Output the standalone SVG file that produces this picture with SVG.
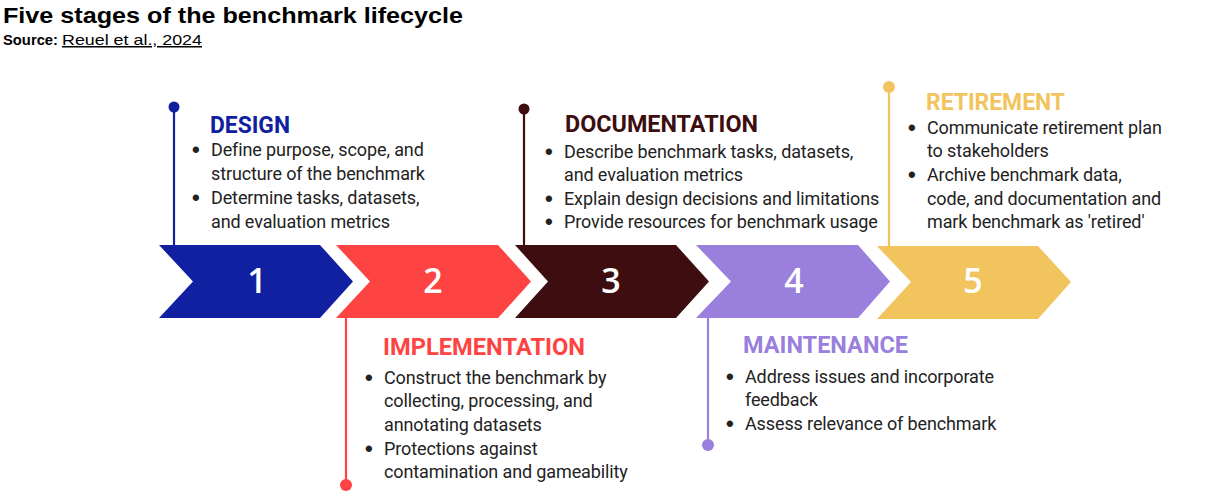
<svg xmlns="http://www.w3.org/2000/svg" width="1205" height="498" viewBox="0 0 1205 498">
<style>
.title{font-family:"Liberation Sans",Arial,sans-serif;font-weight:bold;font-size:22px;fill:#000}
.src{font-family:"Liberation Sans",Arial,sans-serif;font-size:15px;fill:#000}
.head{font-family:Roboto,"Liberation Sans",sans-serif;font-weight:bold;font-size:24px}
.body{font-family:Roboto,"Liberation Sans",sans-serif;font-size:18px;fill:#222;letter-spacing:-0.12px}
.bul{font-family:"Liberation Sans",Arial,sans-serif;font-size:22px;font-weight:bold;fill:#222}
.num{font-family:"Open Sans","Liberation Sans",sans-serif;font-size:34px;font-weight:600;fill:#fff;text-anchor:middle}
.ln{stroke-width:2.2;fill:none}
</style>
<rect width="1205" height="498" fill="#fff"/>
<text class="title" x="3" y="23" textLength="460" lengthAdjust="spacingAndGlyphs">Five stages of the benchmark lifecycle</text>
<text class="src" x="3" y="45" font-weight="bold" textLength="55" lengthAdjust="spacingAndGlyphs">Source:</text>
<text class="src" x="62" y="45" text-decoration="underline" textLength="140" lengthAdjust="spacingAndGlyphs">Reuel et al., 2024</text>

<g id="connectors">
<line class="ln" x1="174" y1="107" x2="174" y2="246" stroke="#1020a0"/>
<circle cx="174" cy="107" r="5.5" fill="#1020a0"/>
<line class="ln" x1="346" y1="317" x2="346" y2="485" stroke="#fe4343"/>
<circle cx="346" cy="485" r="6" fill="#fe4343"/>
<line class="ln" x1="524" y1="109" x2="524" y2="246" stroke="#3d0d10"/>
<circle cx="524" cy="109" r="5.5" fill="#3d0d10"/>
<line class="ln" x1="708" y1="317" x2="708" y2="445" stroke="#9a7fdc"/>
<circle cx="708" cy="445" r="6" fill="#9a7fdc"/>
<line class="ln" x1="889" y1="87" x2="889" y2="246" stroke="#f2c45e"/>
<circle cx="889" cy="87" r="6" fill="#f2c45e"/>
</g>

<g id="stage1">
<polygon points="159,245 320,245 353,281.5 320,318 159,318 193,281.5" fill="#1020a0"/>
<text class="num" x="257" y="293">1</text>
<text class="head" x="210" y="133" fill="#1020a0" textLength="80" lengthAdjust="spacingAndGlyphs">DESIGN</text>
<text class="bul" x="192" y="157">•</text><text class="body" x="211" y="156">Define purpose, scope, and</text>
<text class="body" x="211" y="180">structure of the benchmark</text>
<text class="bul" x="192" y="205">•</text><text class="body" x="211" y="204">Determine tasks, datasets,</text>
<text class="body" x="211" y="228">and evaluation metrics</text>
</g>

<g id="stage2">
<polygon points="336,245 498,245 531,281.5 498,318 336,318 370,281.5" fill="#fe4343"/>
<text class="num" x="433" y="293">2</text>
<text class="head" x="383" y="355" fill="#fe4343" textLength="202" lengthAdjust="spacingAndGlyphs">IMPLEMENTATION</text>
<text class="bul" x="365" y="385">•</text><text class="body" x="384" y="384">Construct the benchmark by</text>
<text class="body" x="384" y="407">collecting, processing, and</text>
<text class="body" x="384" y="431">annotating datasets</text>
<text class="bul" x="365" y="456">•</text><text class="body" x="384" y="455">Protections against</text>
<text class="body" x="384" y="478">contamination and gameability</text>
</g>

<g id="stage3">
<polygon points="515,245 676,245 709,281.5 676,318 515,318 548,281.5" fill="#3d0d10"/>
<text class="num" x="611" y="293">3</text>
<text class="head" x="565" y="132" fill="#3d0d10" textLength="193" lengthAdjust="spacingAndGlyphs">DOCUMENTATION</text>
<text class="bul" x="545" y="159">•</text><text class="body" x="564" y="158">Describe benchmark tasks, datasets,</text>
<text class="body" x="564" y="181">and evaluation metrics</text>
<text class="bul" x="545" y="206">•</text><text class="body" x="564" y="205">Explain design decisions and limitations</text>
<text class="bul" x="545" y="229">•</text><text class="body" x="564" y="228">Provide resources for benchmark usage</text>
</g>

<g id="stage4">
<polygon points="696,245 858,245 890,281.5 858,318 696,318 731,281.5" fill="#9a7fdc"/>
<text class="num" x="794" y="293">4</text>
<text class="head" x="743" y="353" fill="#9a7fdc" textLength="165" lengthAdjust="spacingAndGlyphs">MAINTENANCE</text>
<text class="bul" x="726" y="384">•</text><text class="body" x="745" y="383">Address issues and incorporate</text>
<text class="body" x="745" y="406">feedback</text>
<text class="bul" x="726" y="431">•</text><text class="body" x="745" y="430">Assess relevance of benchmark</text>
</g>

<g id="stage5">
<polygon points="877,246 1038,246 1071,282 1038,319 877,319 911,282" fill="#f2c45e"/>
<text class="num" x="973" y="293">5</text>
<text class="head" x="926" y="110" fill="#f2c45e" textLength="139" lengthAdjust="spacingAndGlyphs">RETIREMENT</text>
<text class="bul" x="908" y="135">•</text><text class="body" x="927" y="134">Communicate retirement plan</text>
<text class="body" x="927" y="157">to stakeholders</text>
<text class="bul" x="908" y="182">•</text><text class="body" x="927" y="181">Archive benchmark data,</text>
<text class="body" x="927" y="205">code, and documentation and</text>
<text class="body" x="927" y="228">mark benchmark as 'retired'</text>
</g>
</svg>
